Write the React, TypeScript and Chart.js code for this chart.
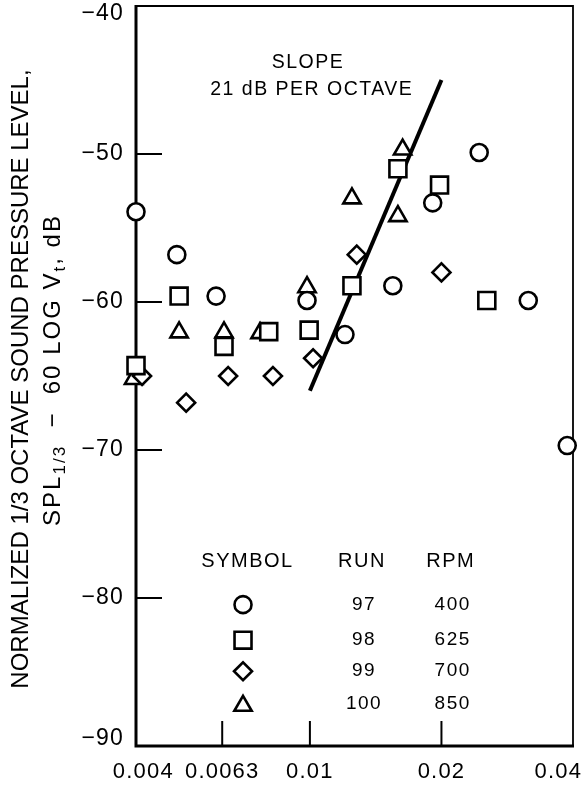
import React, { useEffect, useRef } from 'react';
import { Chart, registerables } from 'chart.js';
import { drawPoint } from 'chart.js/helpers';

Chart.register(...registerables);

// ---- data ----
const run97X = [0.004, 0.00496, 0.0061, 0.00985, 0.01203, 0.01548, 0.0191, 0.0244, 0.0316, 0.0388];
const run97Y = [-53.9, -56.8, -59.6, -59.9, -62.2, -58.9, -53.3, -49.9, -59.9, -69.7];

const run98X = [0.004, 0.00502, 0.00636, 0.00805, 0.00996, 0.01248, 0.0159, 0.0198, 0.0254];
const run98Y = [-64.3, -59.6, -63.0, -62.0, -61.9, -58.9, -51.0, -52.1, -59.9];

const run99X = [0.00413, 0.00521, 0.0065, 0.00823, 0.01017, 0.0128, 0.02];
const run99Y = [-65.0, -66.8, -65.0, -65.0, -63.8, -56.8, -58.0];

const run100X = [0.00395, 0.00502, 0.00636, 0.00769, 0.00985, 0.01248, 0.0159, 0.0163];
const run100Y = [-65.2, -62.05, -62.05, -62.1, -59.0, -53.0, -54.2, -49.7];

const slopeX = [0.01, 0.02];
const slopeY = [-66, -45];

const xTickValues = [0.004, 0.0063, 0.01, 0.02, 0.04];
const xTickLabels = ['0.004', '0.0063', '0.01', '0.02', '0.04'];
const yTickValues = [-90, -80, -70, -60, -50, -40];
const yTickLabels = ['\u221290', '\u221280', '\u221270', '\u221260', '\u221250', '\u221240'];

const legendSymbols = ['circle', 'rect', 'rectRot', 'triangle'];
const legendRuns = ['97', '98', '99', '100'];
const legendRpm = ['400', '625', '700', '850'];
const legendHeaders = ['SYMBOL', 'RUN', 'RPM'];

const slopeLabel = ['SLOPE', '21 dB PER OCTAVE'];
const yTitleLine1 = 'NORMALIZED 1/3 OCTAVE SOUND PRESSURE LEVEL,';
const yTitleLine2 = [
  { t: 'SPL', sub: false },
  { t: '1/3', sub: true },
  { t: '  \u2212  60 LOG V', sub: false },
  { t: 't', sub: true },
  { t: ', dB', sub: false },
];

// ---- style ----
const FONT = "Arial, 'Liberation Sans', Helvetica, sans-serif";
const INK = '#000';
const markerRadius: Record<string, number> = { circle: 8.5, rect: 12, rectRot: 9, triangle: 10 };

const pts = (xs: number[], ys: number[]) => xs.map((x, i) => ({ x, y: ys[i] }));

const spacingPlugin = {
  id: 'spacing',
  beforeDraw(chart: any) {
    (chart.ctx as any).letterSpacing = '1.2px';
  },
};

const framePlugin = {
  id: 'frame',
  beforeDatasetsDraw(chart: any) {
    const { ctx, chartArea: a } = chart;
    (ctx as any).letterSpacing = '0px';
    const xs = chart.scales.x;
    const ys = chart.scales.y;
    ctx.save();
    ctx.strokeStyle = INK;
    ctx.lineCap = 'butt';
    ctx.lineWidth = 2;
    yTickValues.slice(1, -1).forEach((v) => {
      const py = ys.getPixelForValue(v);
      ctx.beginPath();
      ctx.moveTo(a.left, py);
      ctx.lineTo(a.left + 26, py);
      ctx.stroke();
    });
    xTickValues.slice(1, -1).forEach((v) => {
      const px = xs.getPixelForValue(v);
      ctx.beginPath();
      ctx.moveTo(px, a.bottom);
      ctx.lineTo(px, a.bottom - 25);
      ctx.stroke();
    });
    ctx.lineWidth = 1.8;
    ctx.beginPath();
    ctx.moveTo(a.left, a.top);
    ctx.lineTo(a.right, a.top);
    ctx.lineTo(a.right, a.bottom);
    ctx.stroke();
    ctx.lineWidth = 3;
    ctx.beginPath();
    ctx.moveTo(a.left, a.top - 1);
    ctx.lineTo(a.left, a.bottom);
    ctx.lineTo(a.right + 1, a.bottom);
    ctx.stroke();
    ctx.restore();
  },
};

const textPlugin = {
  id: 'texts',
  afterDatasetsDraw(chart: any) {
    const { ctx } = chart;
    const xs = chart.scales.x;
    const ys = chart.scales.y;
    ctx.save();
    ctx.fillStyle = INK;
    ctx.textAlign = 'center';
    ctx.textBaseline = 'middle';
    (ctx as any).letterSpacing = '1.5px';
    ctx.font = `19.5px ${FONT}`;
    // slope annotation
    ctx.fillText(slopeLabel[0], xs.getPixelForValue(0.0099), ys.getPixelForValue(-43.8));
    ctx.fillText(slopeLabel[1], xs.getPixelForValue(0.0101), ys.getPixelForValue(-45.65));

    // legend table
    const colSym = xs.getPixelForValue(0.00703);
    const colRun = xs.getPixelForValue(0.01316);
    const colRpm = xs.getPixelForValue(0.0210);
    const headY = ys.getPixelForValue(-77.5);
    ctx.font = `20px ${FONT}`;
    ctx.fillText(legendHeaders[0], xs.getPixelForValue(0.0072), headY);
    ctx.fillText(legendHeaders[1], colRun, headY);
    ctx.fillText(legendHeaders[2], colRpm, headY);
    const rowVals = [-80.45, -82.85, -84.95, -87.15];
    legendSymbols.forEach((s, i) => {
      const ry = ys.getPixelForValue(rowVals[i]);
      ctx.font = `19px ${FONT}`;
      ctx.fillStyle = INK;
      ctx.fillText(legendRuns[i], colRun + 2, ry);
      ctx.fillText(legendRpm[i], colRpm + 2, ry);
      ctx.fillStyle = '#fff';
      ctx.strokeStyle = INK;
      ctx.lineWidth = 2.6;
      drawPoint(ctx, { pointStyle: s, radius: markerRadius[s], rotation: 0, borderWidth: 2.6 } as any, colSym, ry + (s === 'triangle' ? 2 : 0));
    });
    ctx.restore();

    // y axis title
    ctx.save();
    (ctx as any).letterSpacing = '0px';
    ctx.fillStyle = INK;
    ctx.textBaseline = 'middle';
    ctx.textAlign = 'center';
    ctx.translate(21, 379);
    ctx.rotate(-Math.PI / 2);
    ctx.font = `24px ${FONT}`;
    ctx.fillText(yTitleLine1, 0, 0);
    ctx.restore();

    ctx.save();
    (ctx as any).letterSpacing = '2px';
    ctx.fillStyle = INK;
    ctx.textBaseline = 'middle';
    ctx.textAlign = 'left';
    ctx.translate(53, 370);
    ctx.rotate(-Math.PI / 2);
    const big = `24px ${FONT}`;
    const small = `17px ${FONT}`;
    let total = 0;
    yTitleLine2.forEach((seg) => {
      ctx.font = seg.sub ? small : big;
      total += ctx.measureText(seg.t).width;
    });
    let cx = -total / 2;
    yTitleLine2.forEach((seg) => {
      ctx.font = seg.sub ? small : big;
      ctx.fillText(seg.t, cx, seg.sub ? 7 : 0);
      cx += ctx.measureText(seg.t).width;
    });
    ctx.restore();
  },
};

export default function App() {
  const ref = useRef<HTMLCanvasElement>(null);

  useEffect(() => {
    if (!ref.current) return;
    const common = {
      borderColor: INK,
      backgroundColor: '#fff',
      pointBackgroundColor: '#fff',
      pointBorderColor: INK,
      pointBorderWidth: 2.6,
      showLine: false,
      clip: false as any,
    };
    const chart = new Chart(ref.current, {
      type: 'scatter',
      data: {
        datasets: [
          { ...common, label: 'Run 97', data: pts(run97X, run97Y), pointStyle: 'circle', pointRadius: markerRadius.circle },
          { ...common, label: 'Run 98', data: pts(run98X, run98Y), pointStyle: 'rect', pointRadius: markerRadius.rect },
          { ...common, label: 'Run 99', data: pts(run99X, run99Y), pointStyle: 'rectRot', pointRadius: markerRadius.rectRot },
          { ...common, label: 'Run 100', data: pts(run100X, run100Y), pointStyle: 'triangle', pointRadius: markerRadius.triangle },
          {
            label: 'Slope',
            data: pts(slopeX, slopeY),
            showLine: true,
            borderColor: INK,
            borderWidth: 4,
            pointRadius: 0,
            borderCapStyle: 'butt',
            clip: false as any,
          } as any,
        ],
      },
      options: {
        responsive: false,
        animation: false,
        events: [],
        layout: { autoPadding: false, padding: { left: 0, right: 13, top: 6, bottom: 0 } },
        plugins: {
          legend: { display: false },
          tooltip: { enabled: false },
          title: { display: false },
        },
        scales: {
          x: {
            type: 'logarithmic',
            position: 'bottom',
            min: 0.004,
            max: 0.04,
            grid: { display: false, drawTicks: false },
            border: { display: false },
            afterBuildTicks: (scale: any) => {
              scale.ticks = xTickValues.map((v) => ({ value: v }));
            },
            afterFit: (scale: any) => {
              scale.height = 41;
              scale.paddingLeft = 0;
              scale.paddingRight = 0;
            },
            ticks: {
              autoSkip: false,
              maxRotation: 0,
              minRotation: 0,
              color: INK,
              padding: 13,
              font: { family: FONT, size: 22 },
              callback: (_v: any, i: number) => {
                const lab = xTickLabels[i];
                if (i === 0) return '  ' + lab;
                if (i === xTickLabels.length - 1) return lab + '    ';
                return lab;
              },
            },
          } as any,
          y: {
            type: 'linear',
            min: -90,
            max: -40,
            grid: { display: false, drawTicks: false },
            border: { display: false },
            afterBuildTicks: (scale: any) => {
              scale.ticks = yTickValues.map((v) => ({ value: v }));
            },
            afterFit: (scale: any) => {
              scale.width = 136;
              scale.paddingTop = 0;
              scale.paddingBottom = 0;
            },
            ticks: {
              color: INK,
              padding: 12,
              font: { family: FONT, size: 23, lineHeight: 0.65 },
              callback: (_v: any, i: number) => {
                const lab = yTickLabels[i];
                if (i === yTickLabels.length - 1) return ['', lab];
                if (i === 0) return [lab, ''];
                return lab;
              },
            },
          } as any,
        },
      },
      plugins: [spacingPlugin, framePlugin, textPlugin],
    });
    return () => chart.destroy();
  }, []);

  return (
    <div style={{ position: 'absolute', left: 0, top: 0, width: 586, height: 787, background: '#fff' }}>
      <canvas ref={ref} width={586} height={787} style={{ display: 'block', width: 586, height: 787 }} />
    </div>
  );
}
